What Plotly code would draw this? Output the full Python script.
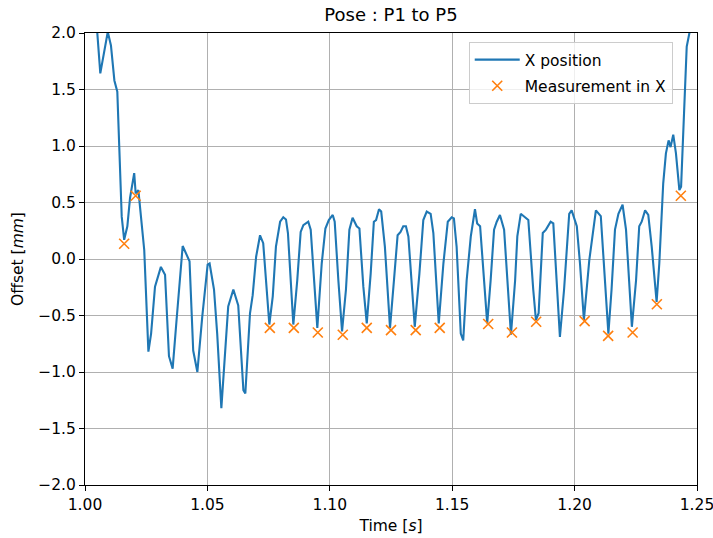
import plotly.graph_objects as go

# X position trace (time [s], offset [mm])
time_s = [1.0040, 1.00625, 1.0093, 1.0106, 1.0120, 1.0132, 1.0140, 1.0150, 1.0160, 1.0173,
          1.0184, 1.0201, 1.0207, 1.0218, 1.0242, 1.0259, 1.0270, 1.0286, 1.0310, 1.0327,
          1.0343, 1.0358, 1.0374, 1.0399, 1.0427, 1.0442, 1.0459, 1.0479, 1.0501, 1.0509,
          1.0527, 1.0540, 1.0557, 1.0568, 1.0585, 1.0606, 1.0626, 1.0647, 1.0655, 1.0674,
          1.0685, 1.0699, 1.0715, 1.0728, 1.0753, 1.0767, 1.0780, 1.0797, 1.0810, 1.0821,
          1.0829, 1.0851, 1.0867, 1.0881, 1.0892, 1.0912, 1.0922, 1.0949, 1.0967, 1.0982,
          1.0996, 1.1012, 1.1020, 1.1035, 1.1050, 1.1066, 1.1080, 1.1093, 1.1110, 1.1121,
          1.1137, 1.1151, 1.1167, 1.1180, 1.1189, 1.1201, 1.1210, 1.1225, 1.1246, 1.1262,
          1.1277, 1.1289, 1.1300, 1.1311, 1.1321, 1.1347, 1.1366, 1.1382, 1.1396, 1.1412,
          1.1423, 1.1445, 1.1464, 1.1482, 1.1498, 1.1507, 1.1518, 1.1535, 1.1545, 1.1559,
          1.1576, 1.1593, 1.1602, 1.1614, 1.1643, 1.1657, 1.1671, 1.1682, 1.1695, 1.1712,
          1.1740, 1.1757, 1.1766, 1.1780, 1.1811, 1.1831, 1.1842, 1.1853, 1.1870, 1.1883,
          1.1902, 1.1913, 1.1940, 1.1957, 1.1978, 1.1988, 1.2009, 1.2022, 1.2038, 1.2060,
          1.2076, 1.2087, 1.2107, 1.2120, 1.2138, 1.2151, 1.2165, 1.2179, 1.2196, 1.2210,
          1.2234, 1.2251, 1.2264, 1.2274, 1.2288, 1.2301, 1.2315, 1.2335, 1.2346, 1.2362,
          1.2373, 1.2384, 1.2392, 1.2403, 1.2414, 1.2428, 1.2435, 1.2447, 1.2458, 1.2469,
          1.2480]
x_position = [2.30, 1.643, 2.01, 1.89, 1.58, 1.48, 0.99, 0.375, 0.17, 0.29,
              0.54, 0.76, 0.58, 0.61, 0.08, -0.82, -0.66, -0.245, -0.07, -0.14,
              -0.86, -0.97, -0.54, 0.115, -0.02, -0.81, -1.00, -0.51, -0.05, -0.04,
              -0.27, -0.66, -1.32, -0.95, -0.42, -0.27, -0.41, -1.16, -1.19, -0.48,
              -0.32, 0.02, 0.21, 0.14, -0.58, -0.33, 0.11, 0.33, 0.37, 0.35,
              0.23, -0.58, -0.19, 0.24, 0.30, 0.33, 0.26, -0.61, -0.04, 0.27,
              0.345, 0.39, 0.33, -0.19, -0.64, -0.27, 0.26, 0.365, 0.29, 0.27,
              -0.245, -0.57, -0.13, 0.33, 0.345, 0.44, 0.42, 0.11, -0.61, -0.19,
              0.21, 0.24, 0.29, 0.29, 0.20, -0.60, -0.13, 0.345, 0.42, 0.40,
              0.23, -0.57, -0.04, 0.33, 0.37, 0.36, 0.11, -0.66, -0.72, -0.19,
              0.20, 0.44, 0.315, 0.29, -0.57, -0.19, 0.26, 0.33, 0.39, 0.26,
              -0.67, -0.19, 0.20, 0.40, 0.345, -0.27, -0.54, -0.48, 0.23, 0.26,
              0.33, 0.315, -0.69, -0.27, 0.40, 0.43, 0.29, -0.04, -0.54, -0.01,
              0.26, 0.43, 0.38, -0.04, -0.66, -0.27, 0.26, 0.40, 0.48, 0.26,
              -0.60, -0.19, 0.29, 0.33, 0.43, 0.39, 0.11, -0.38, -0.04, 0.67,
              0.935, 1.05, 0.99, 1.10, 0.935, 0.61, 0.64, 1.29, 1.88, 2.00,
              2.30]

# Measurements in X
meas_time = [1.0160, 1.0207, 1.0755, 1.0853, 1.0951, 1.1053, 1.1151, 1.1250, 1.1351,
             1.1449, 1.1647, 1.1744, 1.1843, 1.2041, 1.2137, 1.2237, 1.2336, 1.2434]
meas_value = [0.135, 0.56, -0.61, -0.61, -0.65, -0.67, -0.61, -0.63, -0.63,
              -0.61, -0.575, -0.65, -0.555, -0.55, -0.68, -0.65, -0.40, 0.56]

x_ticks = [1.00, 1.05, 1.10, 1.15, 1.20, 1.25]
y_ticks = [-2.0, -1.5, -1.0, -0.5, 0.0, 0.5, 1.0, 1.5, 2.0]

FONT = "DejaVu Sans"
FS = 15.5

fig = go.Figure()
fig.add_trace(go.Scatter(
    x=time_s, y=x_position, mode="lines", name="X position",
    line=dict(color="#1f77b4", width=2.1), legendgroup="a",
))
fig.add_trace(go.Scatter(
    x=meas_time, y=meas_value, mode="markers", name="Measurement in X",
    marker=dict(symbol="x-thin", size=10, color="#ff7f0e",
                line=dict(color="#ff7f0e", width=1.6)), legendgroup="b",
))

axis_common = dict(
    showline=True, linecolor="black", linewidth=1.1, mirror=True,
    ticks="outside", ticklen=5, tickwidth=1.1, tickcolor="black",
    showgrid=True, gridcolor="#b0b0b0", gridwidth=1.1,
    zeroline=False, automargin=False, ticklabeloverflow="allow",
    tickfont=dict(family=FONT, size=FS, color="black"),
)

fig.update_layout(
    width=713, height=538,
    margin=dict(l=85, r=16, t=33, b=53),
    paper_bgcolor="white", plot_bgcolor="white",
    font=dict(family=FONT, color="black"),
    title=dict(text="Pose : P1 to P5", x=0.5, xref="paper", xanchor="center",
               y=1 - 15 / 538, yref="container", yanchor="middle",
               font=dict(family=FONT, size=18, color="black")),
    xaxis=dict(range=[1.0, 1.25], tickvals=x_ticks,
               ticktext=[f"{v:.2f}" for v in x_ticks],
               title=dict(text="Time [<i>s</i>]", font=dict(family=FONT, size=FS), standoff=7),
               **axis_common),
    yaxis=dict(range=[-2.0, 2.0], tickvals=y_ticks,
               ticktext=[f"{v:.1f}".replace("-", "\u2212") for v in y_ticks],
               title=dict(text="Offset [<i>mm</i>]", font=dict(family=FONT, size=FS), standoff=10),
               **axis_common),
    legend=dict(x=0.627, y=0.980, xanchor="left", yanchor="top",
                bgcolor="rgba(255,255,255,0.8)", bordercolor="#cccccc", borderwidth=1,
                font=dict(family=FONT, size=FS, color="black"),
                itemwidth=45, tracegroupgap=3),
    showlegend=True,
)

fig.write_html("out.html")
